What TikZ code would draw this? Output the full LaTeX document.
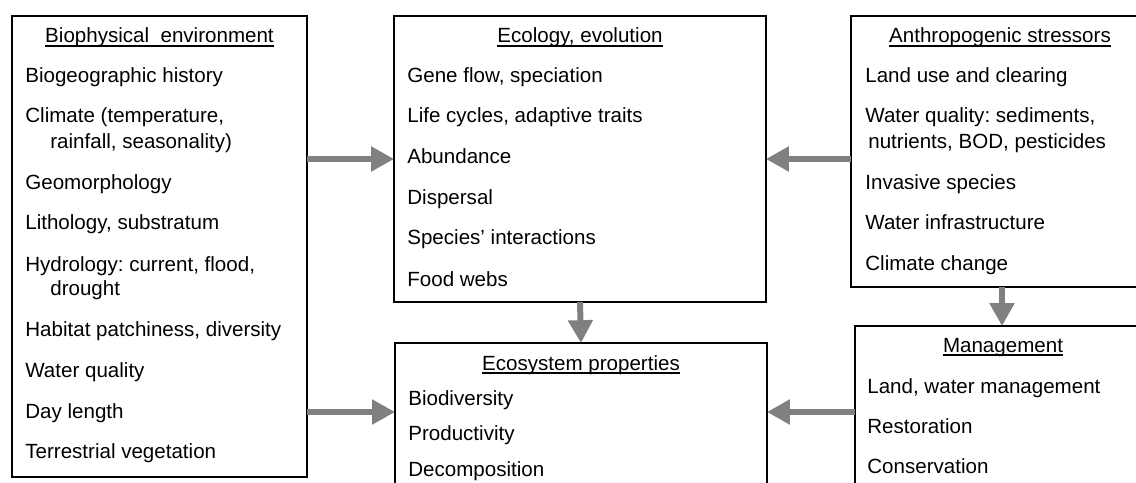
\documentclass[tikz,border=0pt]{standalone}
\usepackage{fontspec}
\setmainfont{Liberation Sans}
\usetikzlibrary{arrows.meta}
\definecolor{arrowgray}{RGB}{128,128,128}
\frenchspacing
% underline that sits close to the baseline
\newcommand{\titlerule}[1]{\setbox0\hbox{#1}\rlap{\rule[-2pt]{\wd0}{0.7pt}}\box0}

\begin{document}
\begin{tikzpicture}[x=0.02cm, y=-0.02cm,
  box/.style={draw, line width=1.1pt, rectangle, inner sep=0pt, outer sep=0pt},
  item/.style={anchor=base west, inner sep=0pt, font=\fontsize{11.7}{14}\selectfont},
  title/.style={item, anchor=base},
  link/.style={arrowgray, line width=3.4pt, -{Triangle[length=13pt,width=13.5pt]}}]
% Frame of the figure, the boxes run past its right and lower edges
\useasboundingbox (0,0) rectangle (1136,483);
\clip (0,0) rectangle (1136,483);
\fill[white] (0,0) rectangle (1136,483);

% The five boxes
\node[box, minimum width=5.90cm, minimum height=9.22cm] (bio) at (159.5,246.5) {};
\node[box, minimum width=7.44cm, minimum height=5.72cm] (eco) at (580,159) {};
\node[box, minimum width=7.44cm, minimum height=3.34cm] (sys) at (581,426.5) {};
\node[box, minimum width=6.04cm, minimum height=5.42cm] (ant) at (1002,151.5) {};
\node[box, minimum width=5.88cm, minimum height=3.68cm] (mgmt) at (1002,418) {};

% Biophysical environment
\node[title] (bio-title) at (159.5,43) {\titlerule{Biophysical\ \ environment}};
\foreach \x/\y/\t [count=\i] in {25/83/Biogeographic history, 25/123/{Climate (temperature,},
    50/149/{rainfall, seasonality)}, 25/189/Geomorphology, 25/229/{Lithology, substratum},
    25/271/{Hydrology: current, flood,}, 50/295/drought, 25/336/{Habitat patchiness, diversity},
    25/377/Water quality, 25/418/Day length, 25/458/Terrestrial vegetation}
  \node[item] (bio-\i) at (\x,\y) {\t};

% Ecology, evolution
\node[title] (eco-title) at (580,43) {\titlerule{Ecology, evolution}};
\foreach \y/\t [count=\i] in {83/{Gene flow, speciation}, 123/{Life cycles, adaptive traits},
    163/Abundance, 204/Dispersal, 244/Species' interactions, 286/Food webs}
  \node[item] (eco-\i) at (407,\y) {\t};

% Anthropogenic stressors
\node[title] (ant-title) at (1000,43) {\titlerule{Anthropogenic stressors}};
\foreach \x/\y/\t [count=\i] in {865/83/Land use and clearing, 865/123/{Water quality: sediments,},
    868/149/{nutrients, BOD, pesticides}, 865/189/Invasive species, 865/229/Water infrastructure,
    865/270/Climate change}
  \node[item] (ant-\i) at (\x,\y) {\t};

% Ecosystem properties
\node[title] (sys-title) at (581,370) {\titlerule{Ecosystem properties}};
\foreach \y/\t [count=\i] in {405/Biodiversity, 440/Productivity, 476/Decomposition}
  \node[item] (sys-\i) at (408,\y) {\t};

% Management
\node[title] (mgmt-title) at (1003,352) {\titlerule{Management}};
\foreach \y/\t [count=\i] in {393/{Land, water management}, 433/Restoration, 473/Conservation}
  \node[item] (mgmt-\i) at (867,\y) {\t};

% Arrows between the boxes
\coordinate (low) at (0,412);
\draw[link] (bio.east |- eco.west) -- (eco.west);
\draw[link] (ant.west |- eco.east) -- (eco.east);
\draw[link] (bio.east |- low) -- (sys.west |- low);
\draw[link] (mgmt.west |- low) -- (sys.east |- low);
\draw[link] (eco.south) -- (sys.north);
\draw[link] (ant.south) -- (mgmt.north);
\end{tikzpicture}
\end{document}
